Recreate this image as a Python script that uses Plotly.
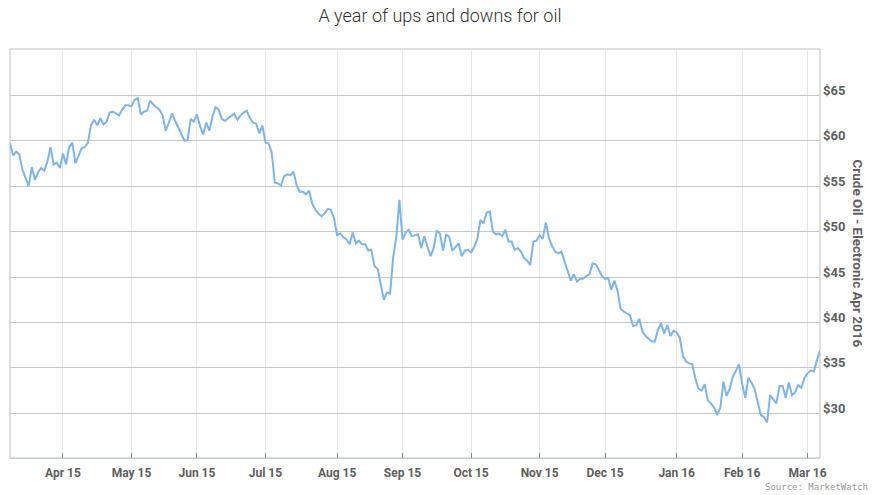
import pandas as pd
import plotly.graph_objects as go

# Trading days (weekdays) of the chart
dates = pd.bdate_range("2015-03-09", "2016-03-07")

price_mar15 = [59.7, 58.4, 58.8, 58.5, 56.8, 56.0, 55.0, 57.1, 55.7, 56.5, 57.0, 56.7, 57.7, 59.3, 57.4, 57.6, 57.0]
price_apr15 = [58.6, 57.4, 59.3, 59.8, 57.5, 58.3, 59.2, 59.3, 59.8, 61.7, 62.3, 61.7, 62.5, 61.8, 62.1, 63.1, 63.2, 63.0, 62.8, 63.4, 63.9, 63.9]
price_may15 = [63.8, 64.5, 64.7, 62.9, 63.2, 63.3, 64.4, 64.0, 63.7, 63.4, 62.8, 61.1, 62.0, 63.0, 62.2, 61.4, 60.8, 60.0, 60.1, 62.4, 62.1]
price_jun15 = [62.9, 61.6, 60.7, 62.0, 61.1, 62.7, 63.7, 63.4, 62.4, 62.2, 62.5, 62.7, 63.0, 62.3, 62.8, 63.1, 63.3, 62.5, 62.0, 61.9, 60.8, 61.7]
price_jul15 = [59.8, 59.7, 58.7, 55.4, 55.3, 55.1, 56.1, 56.3, 56.2, 56.6, 55.1, 54.4, 54.4, 54.1, 54.5, 53.1, 52.4, 52.0, 51.7, 52.0, 52.5, 52.4, 51.5]
price_aug15 = [49.6, 49.8, 49.4, 49.15, 48.6, 49.9, 48.7, 49.0, 48.6, 48.6, 47.9, 48.0, 46.2, 45.9, 44.2, 42.5, 43.3, 43.2, 47.2, 49.4, 53.5]
price_sep15 = [49.1, 49.9, 50.2, 49.5, 49.6, 49.7, 48.2, 49.5, 48.3, 47.3, 48.2, 50.1, 49.8, 47.9, 49.7, 49.4, 47.9, 48.3, 48.7, 47.3, 47.9, 48.0]
price_oct15 = [47.7, 48.3, 49.2, 51.3, 50.9, 52.1, 52.2, 50.0, 49.7, 49.8, 49.5, 50.2, 48.9, 48.9, 48.0, 48.2, 47.8, 47.1, 46.8, 46.3, 48.9, 49.0]
price_nov15 = [49.6, 49.2, 51.0, 49.3, 48.4, 47.8, 47.6, 47.8, 46.7, 45.6, 44.6, 45.3, 44.5, 44.8, 44.8, 45.1, 45.3, 46.5, 46.4, 45.8, 45.1]
price_dec15 = [44.8, 44.9, 43.6, 44.6, 43.5, 41.5, 41.2, 41.0, 40.8, 39.6, 39.7, 40.4, 39.0, 38.5, 38.2, 37.9, 37.9, 39.2, 39.9, 38.8, 39.7, 38.5, 39.1]
price_jan16 = [38.9, 38.3, 36.3, 35.7, 35.5, 35.4, 33.8, 32.7, 32.5, 33.2, 31.4, 31.1, 30.6, 29.8, 30.6, 33.5, 31.9, 32.7, 34.0, 34.7, 35.4]
price_feb16 = [33.3, 31.7, 33.9, 33.4, 32.7, 31.4, 29.8, 29.6, 29.0, 32.0, 31.5, 31.1, 33.0, 33.0, 31.7, 33.4, 32.0, 32.3, 33.1, 32.8, 33.9]
price_mar16 = [34.4, 34.7, 34.6, 35.8, 36.9]

prices = (price_mar15 + price_apr15 + price_may15 + price_jun15 + price_jul15 + price_aug15
          + price_sep15 + price_oct15 + price_nov15 + price_dec15 + price_jan16 + price_feb16 + price_mar16)

tick_dates = ["2015-04-01", "2015-05-01", "2015-06-01", "2015-07-01", "2015-08-03", "2015-09-01",
              "2015-10-01", "2015-11-02", "2015-12-01", "2016-01-01", "2016-02-01", "2016-03-01"]
tick_labels = ["Apr 15", "May 15", "Jun 15", "Jul 15", "Aug 15", "Sep 15",
               "Oct 15", "Nov 15", "Dec 15", "Jan 16", "Feb 16", "Mar 16"]
y_ticks = [30, 35, 40, 45, 50, 55, 60, 65]
y_labels = ["$30", "$35", "$40", "$45", "$50", "$55", "$60", "$65"]

n = min(len(dates), len(prices))

fig = go.Figure()
fig.add_trace(go.Scatter(
    x=dates[:n], y=prices[:n], mode="lines",
    line=dict(color="#7cb5ec", width=2), hoverinfo="skip", showlegend=False,
))

fig.update_layout(
    width=880, height=495,
    margin=dict(l=10, r=60, t=49, b=37),
    paper_bgcolor="white", plot_bgcolor="white",
    title=dict(text="A year of ups and downs for oil", x=0.5, xanchor="center",
               y=1 - 16 / 495, yanchor="middle",
               font=dict(family="Roboto", size=18, color="#333333", weight=300)),
    xaxis=dict(
        type="date",
        range=[dates[0], dates[n - 1]],
        rangebreaks=[dict(bounds=["sat", "mon"])],
        tickmode="array", tickvals=tick_dates, ticktext=tick_labels,
        showgrid=True, gridcolor="#e6e6e6", gridwidth=1,
        showline=True, linecolor="#C0D0E0", linewidth=1,
        ticks="inside", ticklen=5, tickcolor="#888888",
        tickfont=dict(family="Roboto", size=12, color="#606060", weight="bold"),
        ticklabelstandoff=4,
        zeroline=False, fixedrange=True,
    ),
    yaxis=dict(
        side="right", range=[25.08, 70.1],
        tickmode="array", tickvals=y_ticks, ticktext=y_labels,
        showgrid=True, gridcolor="#c8c8c8", gridwidth=1,
        showline=False, ticks="", zeroline=False,
        tickfont=dict(family="Roboto", size=13, color="#606060", weight="bold"),
        ticklabelshift=-5, ticklabelstandoff=2, fixedrange=True,
    ),
    shapes=[dict(type="rect", xref="paper", yref="paper", x0=0, x1=1, y0=0, y1=1,
                 line=dict(color="#c0c0c0", width=1), layer="below")],
    annotations=[
        dict(text="Crude Oil - Electronic Apr 2016", xref="paper", yref="paper",
             x=1, xshift=38, y=0.5, textangle=90, showarrow=False,
             xanchor="center", yanchor="middle",
             font=dict(family="Roboto", size=13.5, color="#606060", weight="bold")),
        dict(text="Source: MarketWatch", xref="paper", yref="paper",
             x=1, xshift=50, y=0, yshift=-29, showarrow=False,
             xanchor="right", yanchor="middle",
             font=dict(family="DejaVu Sans Mono", size=9, color="#999999")),
    ],
)

fig.write_html("out.html", config={"displayModeBar": False},
               post_script="document.body.style.margin='0';")
